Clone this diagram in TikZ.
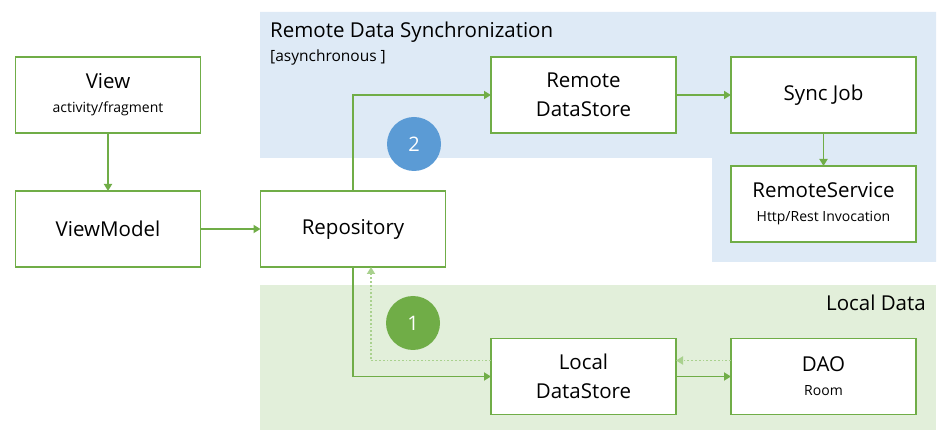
\documentclass[tikz,border=0pt]{standalone}
\usepackage{fontspec}
\setmainfont{Open Sans}
\usetikzlibrary{positioning}
\usetikzlibrary{arrows.meta}

\definecolor{boxgreen}{HTML}{70AD47}
\definecolor{dotgreen}{HTML}{A9D18E}
\definecolor{areablue}{HTML}{DEEAF6}
\definecolor{areagreen}{HTML}{E2EFDA}
\definecolor{stepblue}{HTML}{5B9BD5}

\newcommand{\subtxt}[1]{{\fontsize{14}{17}\selectfont #1}}

\tikzset{
	box/.style={draw=boxgreen,line width=1.2pt,fill=white,rectangle,minimum width=185pt,minimum height=76pt,outer sep=0pt,align=center,font=\fontsize{20.5}{29}\selectfont},
	flow/.style={draw=boxgreen,line width=1.8pt,-{Triangle[length=7pt,width=8pt]}},
	back/.style={draw=dotgreen,line width=1.8pt,dotted,-{Triangle[length=7pt,width=8pt]}},
	badge/.style={circle,minimum size=54pt,inner sep=0pt,text=white,font=\fontsize{20}{24}\selectfont}
}

\begin{document}
\begin{tikzpicture}[x=1pt,y=-1pt]
		\useasboundingbox (0,0) rectangle (951,446);

		% areas
		\fill [areablue] (260,12) -- (936,12) -- (936,262) -- (712,262) -- (712,158) -- (260,158) -- cycle;
		\fill [areagreen] (260,285) rectangle (936,430);

		\node [anchor=west,inner sep=0pt,font=\fontsize{20.5}{24}\selectfont] (remotetitle) at (270,32) {Remote Data Synchronization};
		\node [anchor=west,inner sep=0pt,font=\fontsize{15.5}{18}\selectfont] (asynctxt) at (270,57) {[asynchronous ]};
		\node [anchor=east,inner sep=0pt,font=\fontsize{20.5}{24}\selectfont] (localtitle) at (926,303) {Local Data};

		% boxes
		\node [box] (view) at (108,95) {View\\[-5pt]\subtxt{activity/fragment}};
		\node [box,below=58pt of view] (viewmodel) {ViewModel};
		\node [box,right=60pt of viewmodel] (repo) {Repository};
		\node [box] (remote) at (583.5,95) {Remote\\DataStore};
		\node [box,right=55pt of remote] (syncjob) {Sync Job};
		\node [box,below=33pt of syncjob] (service) {RemoteService\\[-5pt]\subtxt{Http/Rest Invocation}};
		\node [box] (local) at (583.5,376.5) {Local\\DataStore};
		\node [box,right=55pt of local] (dao) {DAO\\[-5pt]\subtxt{Room}};

		\node [badge,fill=stepblue] (two) at (414,144) {2};
		\node [badge,fill=boxgreen] (one) at (413,323) {1};

		% connectors
		\draw [flow] (view) -- (viewmodel);
		\draw [flow] (viewmodel) -- (repo);
		\draw [flow] (repo.north) |- (remote.west);
		\draw [flow] (remote) -- (syncjob);
		\draw [flow] (syncjob) -- (service);
		\draw [flow] (repo.south) |- (local.west);
		\draw [flow] (local) -- (dao);
		\draw [back] ([yshift=16pt]local.west) -| ([xshift=18pt]repo.south);
		\draw [back] ([yshift=16pt]dao.west) -- ([yshift=16pt]local.east);
	\end{tikzpicture}
\end{document}
